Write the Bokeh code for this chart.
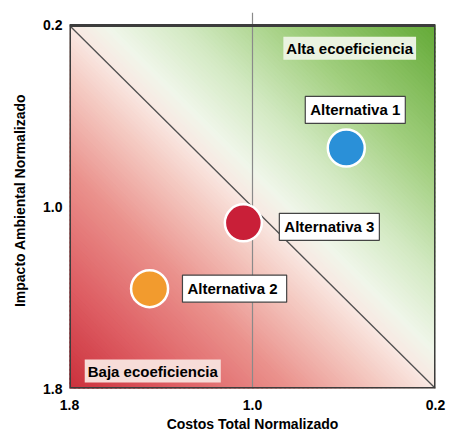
import numpy as np
from bokeh.plotting import figure
from bokeh.models import Range1d, FixedTicker, PrintfTickFormatter, Label
from bokeh.embed import file_html
from bokeh.resources import INLINE

# Eco-efficiency portfolio: normalised total cost vs normalised environmental impact
alternativas = ["Alternativa 1", "Alternativa  2", "Alternativa 3"]
costos = [0.59, 1.45, 1.04]
impacto = [0.74, 1.36, 1.07]
colores = ["#2a90d8", "#f29b2e", "#c91f38"]
ticks = [0.2, 1.0, 1.8]
zonas = ["Alta ecoeficiencia", "Baja ecoeficiencia"]

LO, HI, MID = 0.2, 1.8, 1.0
SPAN = HI - LO
TOP = 0.143  # a little headroom so the 1.0 guide pokes above the frame

FONT = "Liberation Sans"

p = figure(width=451, height=436,
           x_range=Range1d(HI, LO), y_range=Range1d(HI, TOP),
           output_backend="svg", toolbar_location=None,
           min_border_left=69, min_border_right=16,
           min_border_top=12, min_border_bottom=48)
p.outline_line_color = None
p.grid.visible = False
p.background_fill_color = "white"
p.border_fill_color = "white"


def clip(poly, a, b, c):
    """Keep the part of a polygon where a*x + b*y + c >= 0."""
    out = []
    n = len(poly)
    for i in range(n):
        P, Q = poly[i], poly[(i + 1) % n]
        fp = a * P[0] + b * P[1] + c
        fq = a * Q[0] + b * Q[1] + c
        if fp >= 0:
            out.append(P)
        if (fp >= 0) != (fq >= 0):
            t = fp / (fp - fq)
            out.append((P[0] + t * (Q[0] - P[0]), P[1] + t * (Q[1] - P[1])))
    return out


# diagonal colour ramp: red (low eco-efficiency) -> pale -> green (high)
stops_s = [-1.0, -0.7, -0.4, -0.15, 0.0, 0.1, 0.3, 0.6, 1.0]
stops_rgb = np.array([
    (203, 48, 60), (222, 95, 100), (234, 145, 140), (244, 200, 192),
    (249, 232, 226), (240, 246, 234), (212, 234, 196), (160, 206, 125),
    (100, 170, 55)], dtype=float)

square = [(LO, LO), (HI, LO), (HI, HI), (LO, HI)]
nb = 160
edges = np.linspace(-1, 1, nb + 1)
xs, ys, cols = [], [], []
for k in range(nb):
    s0, s1 = edges[k], min(edges[k + 1] + 0.004, 1.0)
    poly = clip(square, -1, -1, HI + LO - s0 * SPAN)
    poly = clip(poly, 1, 1, -(HI + LO) + s1 * SPAN)
    if len(poly) < 3:
        continue
    sm = 0.5 * (edges[k] + edges[k + 1])
    rgb = [int(round(np.interp(sm, stops_s, stops_rgb[:, j]))) for j in range(3)]
    xs.append([q[0] for q in poly])
    ys.append([q[1] for q in poly])
    cols.append("#%02x%02x%02x" % tuple(rgb))

p.patches(xs, ys, fill_color=cols, line_color=cols, line_width=1)

# guides: break-even diagonal and the cost midline
p.line([HI, LO], [LO, HI], line_color="#505050", line_width=1.3)
p.segment(x0=[MID], y0=[TOP], x1=[MID], y1=[HI], line_color="#8a8a8a", line_width=1.2)

# chart frame
p.quad(left=[HI], right=[LO], top=[LO], bottom=[HI], fill_alpha=0,
       line_color="#3c3c3c", line_width=3)

# alternatives
p.scatter(costos, impacto, size=37, marker="circle", fill_color=colores,
          line_color="white", line_width=2.5)

label_offsets = [(9, 38), (85, 0), (86, -4)]
for name, cx, cy, (dx, dy) in zip(alternativas, costos, impacto, label_offsets):
    p.add_layout(Label(x=cx, y=cy, x_offset=dx, y_offset=dy, text=name,
                       text_align="center", text_baseline="middle",
                       text_font=FONT, text_font_style="bold", text_font_size="15px",
                       text_color="black", background_fill_color="white",
                       border_line_color="#444444", border_line_width=1.2,
                       padding=5))

# region captions
p.add_layout(Label(x=0.575, y=0.30, text=zonas[0], text_align="center",
                   text_baseline="middle", text_font=FONT, text_font_style="bold",
                   text_font_size="15px", text_color="black",
                   background_fill_color="#eaf3e0", padding=3))
p.add_layout(Label(x=1.436, y=1.723, text=zonas[1], text_align="center",
                   text_baseline="middle", text_font=FONT, text_font_style="bold",
                   text_font_size="15px", text_color="black",
                   background_fill_color="#f7dcd8", padding=3))

# axes
for ax in (p.xaxis, p.yaxis):
    ax.ticker = FixedTicker(ticks=ticks)
    ax.formatter = PrintfTickFormatter(format="%.1f")
    ax.axis_line_color = None
    ax.major_tick_line_color = None
    ax.minor_tick_line_color = None
    ax.major_tick_out = 0
    ax.major_tick_in = 0
    ax.major_label_text_font = FONT
    ax.major_label_text_font_style = "bold"
    ax.major_label_text_font_size = "14px"
    ax.major_label_text_color = "black"
    ax.axis_label_text_font = FONT
    ax.axis_label_text_font_style = "bold"
    ax.axis_label_text_font_size = "14px"
    ax.axis_label_text_color = "black"

p.xaxis.axis_label = "Costos Total Normalizado"
p.yaxis.axis_label = "Impacto Ambiental Normalizado"
p.xaxis.major_label_standoff = 11
p.xaxis.axis_label_standoff = 3
p.yaxis.major_label_standoff = 7
p.yaxis.axis_label_standoff = 12

open("out.html", "w").write(file_html(p, INLINE))
